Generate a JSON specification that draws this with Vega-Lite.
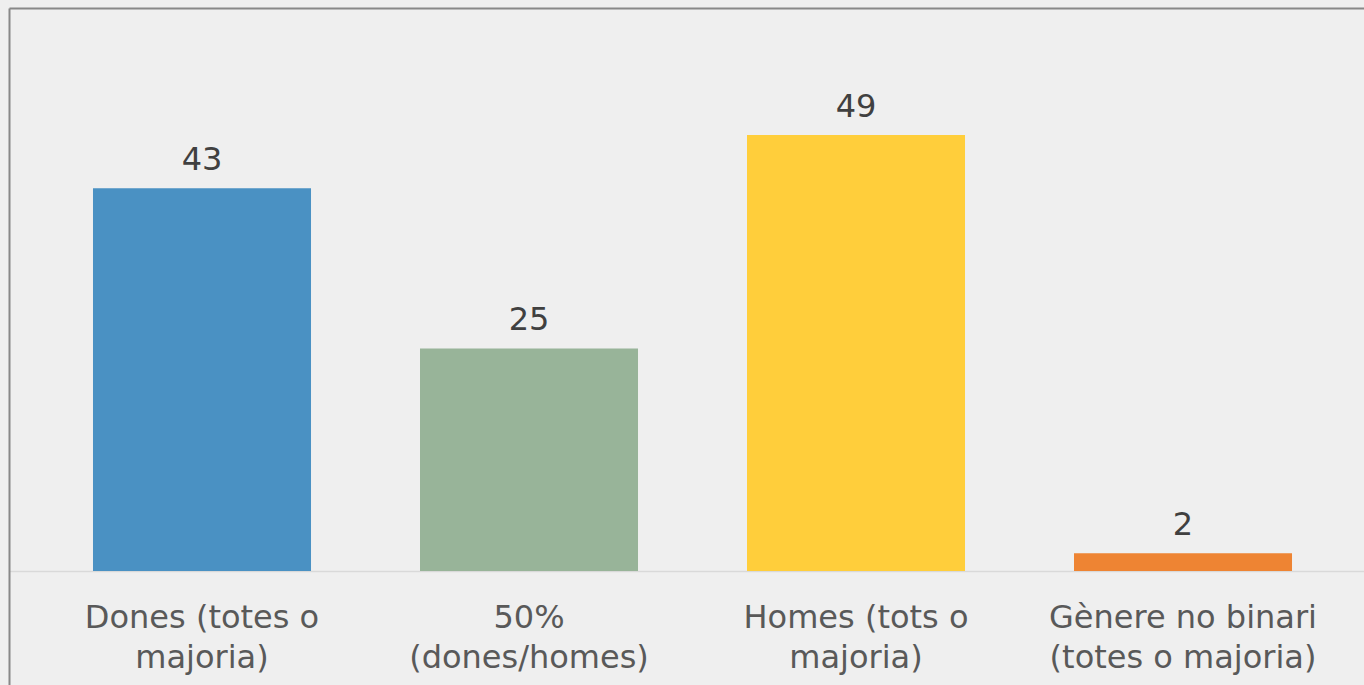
{
  "$schema": "https://vega.github.io/schema/vega-lite/v6.json",
  "autosize": {"type": "none"},
  "padding": {"left": 9, "top": 8, "right": 0, "bottom": 0},
  "width": 1355,
  "height": 677,
  "background": "#efefef",
  "config": {"view": {"stroke": null}, "font": "DejaVu Sans"},
  "data": {"values": [
    {"categoria": "Dones (totes o majoria)", "valor": 43},
    {"categoria": "50% (dones/homes)", "valor": 25},
    {"categoria": "Homes (tots o majoria)", "valor": 49},
    {"categoria": "Gènere no binari (totes o majoria)", "valor": 2}
  ]},
  "encoding": {
    "x": {
      "field": "categoria", "type": "nominal", "sort": null,
      "scale": {"domain": ["Dones (totes o majoria)", "50% (dones/homes)", "Homes (tots o majoria)", "Gènere no binari (totes o majoria)"],
                "paddingInner": 0.3333, "paddingOuter": 0.2385, "align": 0.5385},
      "axis": {
        "title": null, "labelAngle": 0, "ticks": false, "offset": -114,
        "domain": true, "domainColor": "#d9d9d9", "domainWidth": 1.5,
        "labelFontSize": 32, "labelColor": "#595959", "labelFont": "DejaVu Sans",
        "labelPadding": 31, "labelBaseline": "top", "labelLineHeight": 40,
        "labelLimit": 0,
        "labelExpr": "datum.value == 'Dones (totes o majoria)' ? ['Dones (totes o', 'majoria)'] : datum.value == '50% (dones/homes)' ? ['50%', '(dones/homes)'] : datum.value == 'Homes (tots o majoria)' ? ['Homes (tots o', 'majoria)'] : ['Gènere no binari', '(totes o majoria)']"
      }
    },
    "y": {
      "field": "valor", "type": "quantitative",
      "scale": {"domain": [-12.809, 63.258], "nice": false, "zero": false},
      "axis": {
        "title": null, "labels": false, "ticks": false,
        "values": [63.258], "grid": true, "gridColor": "#888888", "gridWidth": 2,
        "domain": true, "domainColor": "#888888", "domainWidth": 2
      }
    }
  },
  "layer": [
    {
      "mark": {"type": "bar"},
      "encoding": {
        "color": {
          "field": "categoria", "type": "nominal", "sort": null,
          "scale": {"domain": ["Dones (totes o majoria)", "50% (dones/homes)", "Homes (tots o majoria)", "Gènere no binari (totes o majoria)"],
                    "range": ["#4a91c3", "#98b499", "#ffce3b", "#ee8433"]},
          "legend": null
        }
      }
    },
    {
      "mark": {"type": "text", "baseline": "alphabetic", "dy": -18, "fontSize": 32, "color": "#404040", "font": "DejaVu Sans"},
      "encoding": {"text": {"field": "valor", "type": "quantitative"}}
    }
  ]
}
